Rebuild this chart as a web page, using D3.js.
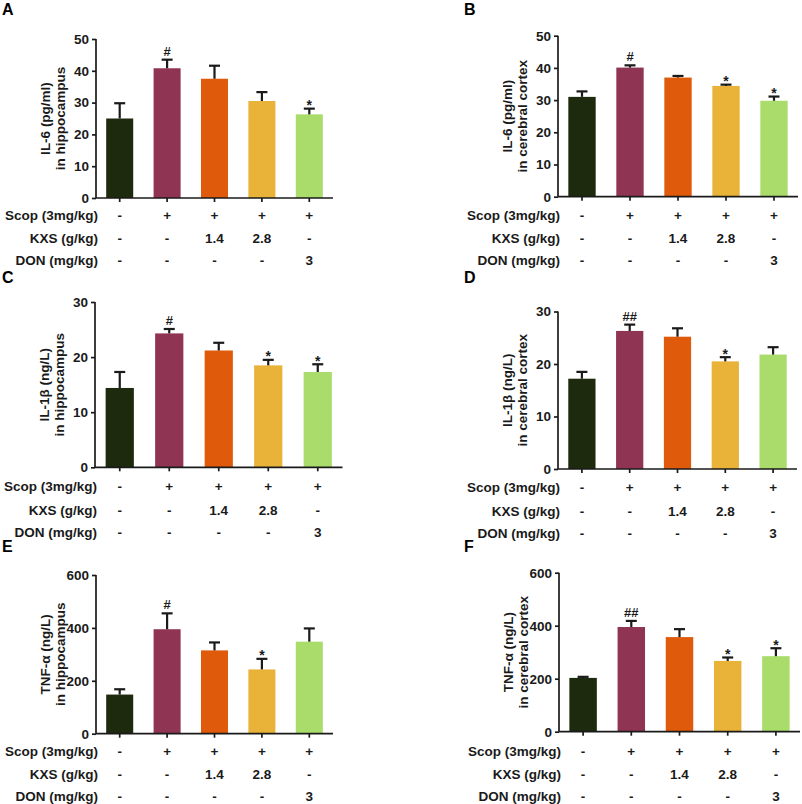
<!DOCTYPE html>
<html><head><meta charset="utf-8">
<script src="https://cdn.jsdelivr.net/npm/d3@7"></script>
<style>
html,body{margin:0;padding:0;background:#fff;}
svg{display:block;font-family:"Liberation Sans",Arial,Helvetica,sans-serif;font-weight:bold;}
</style></head>
<body>
<svg id="chart" width="802" height="804"></svg>
<script>
// ---- data ----
const categories = ["Control", "Scop", "Scop+KXS 1.4", "Scop+KXS 2.8", "Scop+DON 3"];
const barColors = ["#1d2a0d", "#8f3452", "#e05a0b", "#e8b338", "#a9dc6b"];
const rowLabels = ["Scop (3mg/kg)", "KXS (g/kg)", "DON (mg/kg)"];
const scopRow = ["-", "+", "+", "+", "+"];
const kxsRow = ["-", "-", "1.4", "2.8", "-"];
const donRow = ["-", "-", "-", "-", "3"];

const il6HippMean = [25, 40.8, 37.5, 30.5, 26.3];
const il6HippErr = [4.8, 2.7, 4.1, 2.8, 1.8];
const il6HippSig = ["", "#", "", "", "*"];
const il6CortexMean = [31, 40.1, 37.0, 34.4, 29.8];
const il6CortexErr = [1.7, 0.7, 0.5, 0.4, 1.3];
const il6CortexSig = ["", "#", "", "*", "*"];
const il1bHippMean = [14.4, 24.3, 21.2, 18.5, 17.3];
const il1bHippErr = [2.9, 0.8, 1.4, 1.0, 1.4];
const il1bHippSig = ["", "#", "", "*", "*"];
const il1bCortexMean = [17.2, 26.3, 25.2, 20.5, 21.8];
const il1bCortexErr = [1.3, 1.2, 1.6, 0.8, 1.4];
const il1bCortexSig = ["", "##", "", "*", ""];
const tnfHippMean = [148, 395, 315, 243, 348];
const tnfHippErr = [20, 60, 30, 40, 50];
const tnfHippSig = ["", "#", "", "*", ""];
const tnfCortexMean = [203, 395, 357, 267, 285];
const tnfCortexErr = [4, 23, 30, 13, 30];
const tnfCortexSig = ["", "##", "", "*", "*"];

const ticks50 = [0, 10, 20, 30, 40, 50];
const ticks30 = [0, 10, 20, 30];
const ticks600 = [0, 200, 400, 600];

// ---- layout (positions only) ----
const panels = [
  {letter:"A", lx:2, ly:15, x0:96, x1:333, yb:198, yt:39, max:50, ticks:ticks50, mean:il6HippMean, err:il6HippErr, sig:il6HippSig,
   label:["IL-6 (pg/ml)","in hippocampus"], rows:[219.5,242.5,264.5]},
  {letter:"B", lx:464, ly:15, x0:558, x1:798, yb:196.7, yt:35.7, max:50, ticks:ticks50, mean:il6CortexMean, err:il6CortexErr, sig:il6CortexSig,
   label:["IL-6 (pg/ml)","in cerebral cortex"], rows:[219.5,242.5,264.5]},
  {letter:"C", lx:2, ly:283, x0:95, x1:342.5, yb:467.3, yt:302, max:30, ticks:ticks30, mean:il1bHippMean, err:il1bHippErr, sig:il1bHippSig,
   label:["IL-1β (ng/L)","in hippocampus"], rows:[490.5,514.5,536.5]},
  {letter:"D", lx:464, ly:283, x0:558, x1:797, yb:469, yt:311.5, max:30, ticks:ticks30, mean:il1bCortexMean, err:il1bCortexErr, sig:il1bCortexSig,
   label:["IL-1β (ng/L)","in cerebral cortex"], rows:[492,516,537.5]},
  {letter:"E", lx:2, ly:552, x0:96, x1:333, yb:733.7, yt:575, max:600, ticks:ticks600, mean:tnfHippMean, err:tnfHippErr, sig:tnfHippSig,
   label:["TNF-α (ng/L)","in hippocampus"], rows:[755.5,778.5,801]},
  {letter:"F", lx:464, ly:552, x0:559, x1:800, yb:731.7, yt:572.7, max:600, ticks:ticks600, mean:tnfCortexMean, err:tnfCortexErr, sig:tnfCortexSig,
   label:["TNF-α (ng/L)","in cerebral cortex"], rows:[755.5,778.5,801]}
];

const svg = d3.select("#chart");
const ink = "#1a1a1a";
const fs = 13.5;

panels.forEach(p => {
  const g = svg.append("g");
  const x = d3.scaleBand().domain(categories).range([p.x0, p.x1]).paddingInner(0.43).paddingOuter(0.215);
  const y = d3.scaleLinear().domain([0, p.max]).range([p.yb, p.yt]);

  // panel letter
  g.append("text").attr("x", p.lx).attr("y", p.ly).attr("font-size", 16).attr("fill", "#000").text(p.letter);

  // bars
  g.selectAll("rect.bar").data(categories).enter().append("rect")
    .attr("x", d => x(d)).attr("width", x.bandwidth())
    .attr("y", (d, i) => y(p.mean[i])).attr("height", (d, i) => y(0) - y(p.mean[i]))
    .attr("fill", (d, i) => barColors[i]);

  // error bars (upper)
  const capW = 11;
  categories.forEach((c, i) => {
    const cx = x(c) + x.bandwidth() / 2;
    const top = y(p.mean[i] + p.err[i]);
    g.append("line").attr("x1", cx).attr("x2", cx).attr("y1", y(p.mean[i])).attr("y2", top)
      .attr("stroke", ink).attr("stroke-width", 2.2);
    g.append("line").attr("x1", cx - capW / 2).attr("x2", cx + capW / 2).attr("y1", top).attr("y2", top)
      .attr("stroke", ink).attr("stroke-width", 2.2);
    const s = p.sig[i];
    if (s) {
      const isStar = s === "*";
      g.append("text").attr("x", cx).attr("y", isStar ? top + 1.5 : top - 4)
        .attr("text-anchor", "middle").attr("font-size", isStar ? 14 : 13).attr("fill", ink).text(s);
    }
  });

  // y axis
  const yAxis = d3.axisLeft(y).tickValues(p.ticks).tickSize(4).tickPadding(3).tickFormat(d3.format("d"));
  const ya = g.append("g").attr("transform", `translate(${p.x0},0)`).call(yAxis);
  ya.attr("font-family", null).attr("font-size", null);
  ya.select(".domain").attr("d", `M0,${p.yt}V${p.yb}`).attr("stroke", ink).attr("stroke-width", 1.7);
  ya.selectAll(".tick line").attr("stroke", ink).attr("stroke-width", 1.7);
  ya.selectAll(".tick text").attr("font-size", fs).attr("fill", ink);

  // x axis
  const xAxis = d3.axisBottom(x).tickSize(4).tickFormat("");
  const xa = g.append("g").attr("transform", `translate(0,${p.yb})`).call(xAxis);
  xa.select(".domain").attr("d", `M${p.x0},0H${p.x1}`).attr("stroke", ink).attr("stroke-width", 1.7);
  xa.selectAll(".tick line").attr("stroke", ink).attr("stroke-width", 1.7);

  // y label (two lines)
  const cy = (p.yt + p.yb) / 2;
  [p.x0 - 51, p.x0 - 36].forEach((lx, k) => {
    g.append("text").attr("transform", `translate(${lx},${cy}) rotate(-90)`)
      .attr("text-anchor", "middle").attr("dy", "0.35em").attr("font-size", fs).attr("fill", ink).text(p.label[k]);
  });

  // treatment rows
  [scopRow, kxsRow, donRow].forEach((row, r) => {
    g.append("text").attr("x", p.x0 + 2).attr("y", p.rows[r]).attr("text-anchor", "end")
      .attr("font-size", fs).attr("fill", ink).text(rowLabels[r]);
    g.selectAll(null).data(categories).enter().append("text")
      .attr("x", d => x(d) + x.bandwidth() / 2).attr("y", p.rows[r])
      .attr("text-anchor", "middle").attr("font-size", fs).attr("fill", ink)
      .text((d, i) => row[i]);
  });
});
</script>
</body></html>
